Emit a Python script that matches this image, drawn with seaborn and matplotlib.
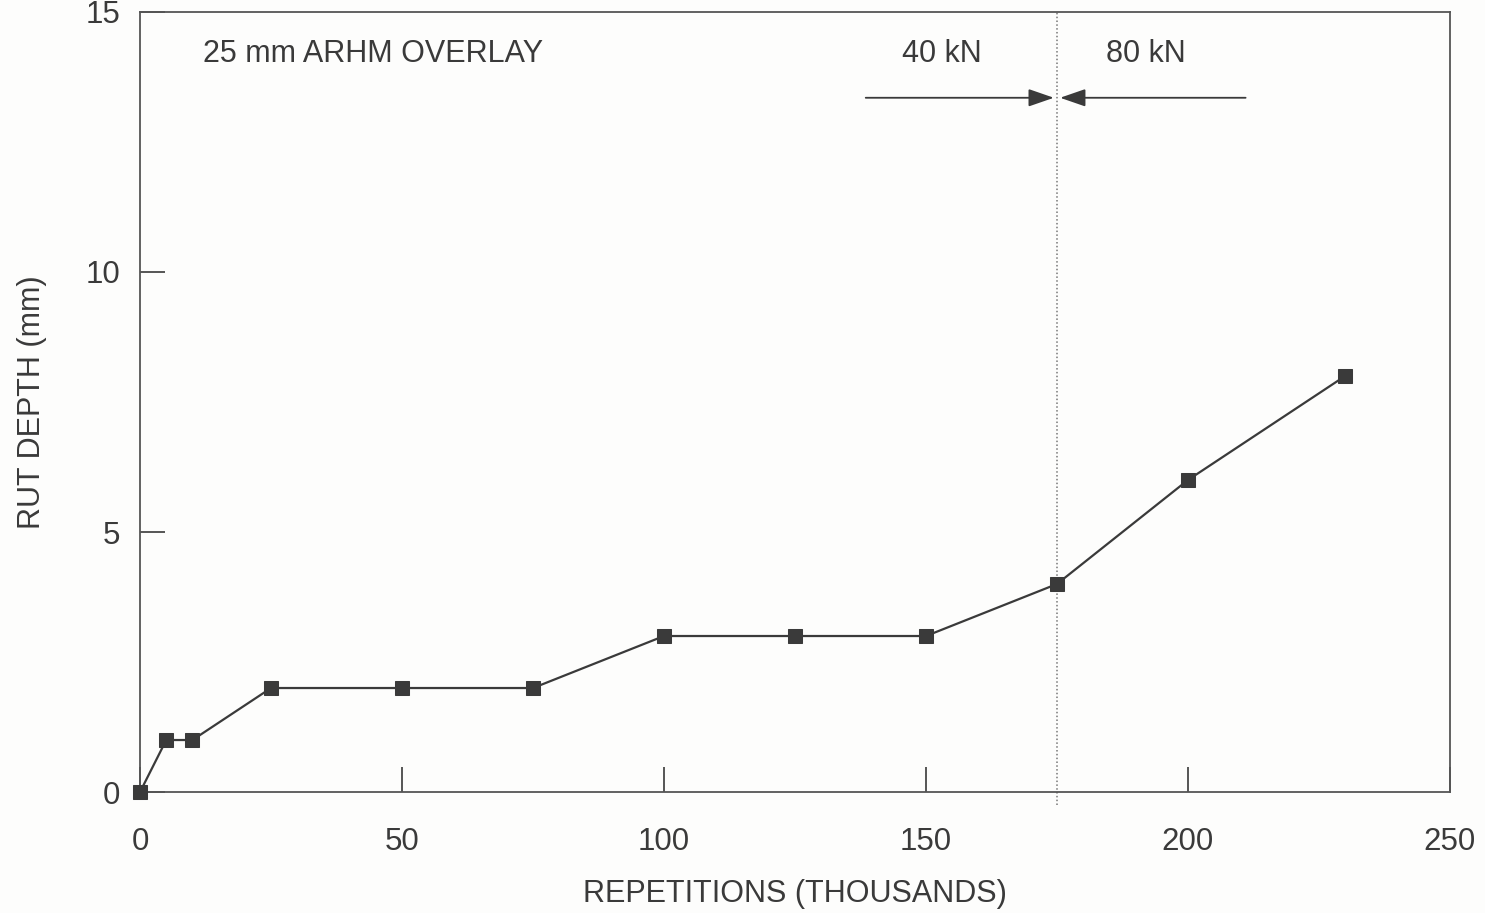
import matplotlib
matplotlib.use("Agg")
import matplotlib.pyplot as plt
import seaborn as sns
import pandas as pd

# Rut depth measurements under the trafficking sequence
repetitions = [0, 5, 10, 25, 50, 75, 100, 125, 150, 175, 200, 230]
rut_depth = [0, 1, 1, 2, 2, 2, 3, 3, 3, 4, 6, 8]

x_ticks = [0, 50, 100, 150, 200, 250]
y_ticks = [0, 5, 10, 15]
load_change = 175
title_text = "25 mm ARHM OVERLAY"
load_labels = ["40 kN", "80 kN"]

sns.set_theme(style="white")
plt.rcParams["font.family"] = ["Liberation Sans", "DejaVu Sans"]

ink = "#3a3a3a"
df = pd.DataFrame({"rep": repetitions, "rut": rut_depth})

fig = plt.figure(figsize=(14.85, 9.13), dpi=100, facecolor="#fdfdfc")
ax = fig.add_axes([0.0943, 0.1325, 0.8821, 0.8544])
ax.set_facecolor("#fdfdfc")

sns.lineplot(data=df, x="rep", y="rut", ax=ax, color=ink, linewidth=1.6,
             marker="s", markersize=10, markerfacecolor=ink,
             markeredgecolor=ink, clip_on=False, zorder=5)

ax.set_xlim(0, 250)
ax.set_ylim(0, 15)
ax.set_xticks(x_ticks)
ax.set_yticks(y_ticks)
ax.tick_params(bottom=True, left=True, direction="in", length=18, width=1.4,
               color="#555555", labelsize=22.5, labelcolor=ink)
ax.tick_params(axis="x", pad=25)
ax.tick_params(axis="y", pad=14)
for s in ax.spines.values():
    s.set_color("#555555")
    s.set_linewidth(1.3)

ax.set_xlabel("REPETITIONS (THOUSANDS)", fontsize=22, color=ink, labelpad=16)
ax.set_ylabel("RUT DEPTH (mm)", fontsize=22, color=ink, labelpad=28)

# load change marker
ax.axvline(load_change, ymin=-0.017, ymax=1, color="#777777", lw=1.1,
           linestyle=(0, (1, 1.5)), clip_on=False, zorder=2)

ax.text(12, 14.2, title_text, fontsize=22, color=ink, va="center", ha="left")
ax.text(153, 14.2, load_labels[0], fontsize=22, color=ink, va="center", ha="center")
ax.text(192, 14.2, load_labels[1], fontsize=22, color=ink, va="center", ha="center")

arrow_kw = dict(arrowstyle="-|>,head_length=1.3,head_width=0.45",
                color=ink, lw=1.3, shrinkA=0, shrinkB=0)
ax.annotate("", xy=(174.4, 13.35), xytext=(138.5, 13.35), arrowprops=arrow_kw)
ax.annotate("", xy=(175.6, 13.35), xytext=(211, 13.35), arrowprops=arrow_kw)

fig.savefig("out.png", dpi=100, facecolor=fig.get_facecolor())
